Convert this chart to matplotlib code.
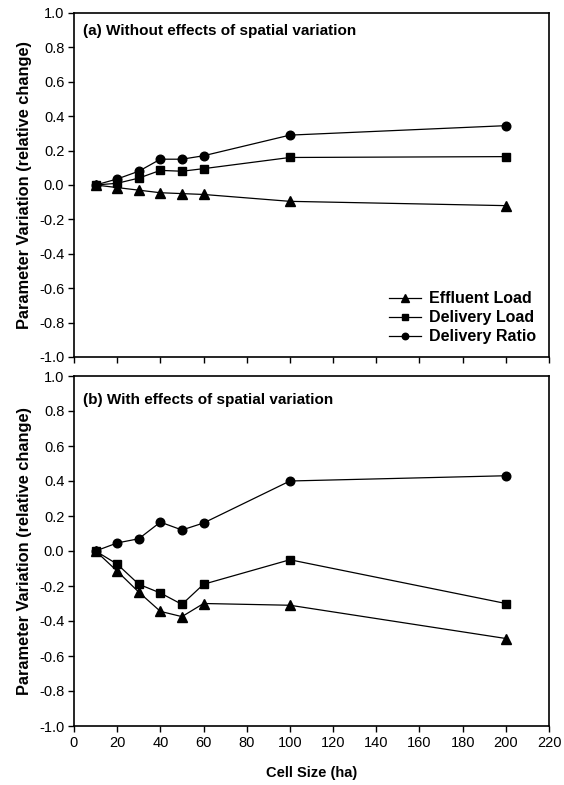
import matplotlib
matplotlib.use("Agg")
import matplotlib.pyplot as plt

plt.rcParams['font.family'] = ['Liberation Sans', 'DejaVu Sans']

cell_size = [10, 20, 30, 40, 50, 60, 100, 200]

# (a) Without effects of spatial variation
a_effluent = [0.0, -0.015, -0.03, -0.045, -0.05, -0.055, -0.095, -0.12]
a_delivery_load = [0.0, 0.01, 0.04, 0.085, 0.08, 0.095, 0.16, 0.165]
a_delivery_ratio = [0.0, 0.035, 0.08, 0.15, 0.15, 0.17, 0.29, 0.345]

# (b) With effects of spatial variation
b_effluent = [0.0, -0.115, -0.235, -0.345, -0.375, -0.30, -0.31, -0.50]
b_delivery_load = [0.0, -0.075, -0.19, -0.24, -0.305, -0.19, -0.05, -0.30]
b_delivery_ratio = [0.0, 0.046, 0.07, 0.165, 0.12, 0.16, 0.40, 0.43]

series_names = ["Effluent Load", "Delivery Load", "Delivery Ratio"]
markers = ["^", "s", "o"]
panel_titles = ["(a) Without effects of spatial variation",
                "(b) With effects of spatial variation"]
title_y = [0.948, 0.932]
xticks = list(range(0, 221, 20))
yticks = [-1.0, -0.8, -0.6, -0.4, -0.2, 0.0, 0.2, 0.4, 0.6, 0.8, 1.0]

fig = plt.figure(figsize=(5.64, 7.85), dpi=100)
left, right = 74 / 564, 549 / 564
ax1 = fig.add_axes([left, 1 - 357 / 785, right - left, (357 - 13) / 785])
ax2 = fig.add_axes([left, 1 - 726 / 785, right - left, (726 - 376) / 785])

panels = [
    (ax1, [a_effluent, a_delivery_load, a_delivery_ratio]),
    (ax2, [b_effluent, b_delivery_load, b_delivery_ratio]),
]

for i, (ax, data) in enumerate(panels):
    for name, m, ys in zip(series_names, markers, data):
        ax.plot(cell_size, ys, color='black', lw=0.9, marker=m,
                markersize=6.2 if m != '^' else 6.8, label=name)
    ax.set_xlim(0, 220)
    ax.set_ylim(-1.0, 1.0)
    ax.set_xticks(xticks)
    ax.set_yticks(yticks)
    ax.set_yticklabels([f"{v:.1f}" for v in yticks])
    ax.tick_params(direction='out', length=4, width=1, labelsize=10.5, pad=3)
    for s in ax.spines.values():
        s.set_linewidth(1.2)
    ax.set_ylabel("Parameter Variation (relative change)", fontsize=11.8,
                  fontweight='bold', labelpad=5)
    ax.text(0.018, title_y[i], panel_titles[i], transform=ax.transAxes,
            fontsize=11, fontweight='bold', va='center', ha='left')

ax1.tick_params(axis='x', labelbottom=False)
ax2.set_xlabel("Cell Size (ha)", fontsize=10.5, fontweight='bold', labelpad=12)

leg = ax1.legend(loc='lower right', frameon=False,
                 handlelength=2.0, markerscale=0.75, handletextpad=0.5,
                 borderaxespad=0.4, labelspacing=0.25,
                 prop={'weight': 'bold', 'size': 11.5})

fig.savefig("out.png", dpi=100)
